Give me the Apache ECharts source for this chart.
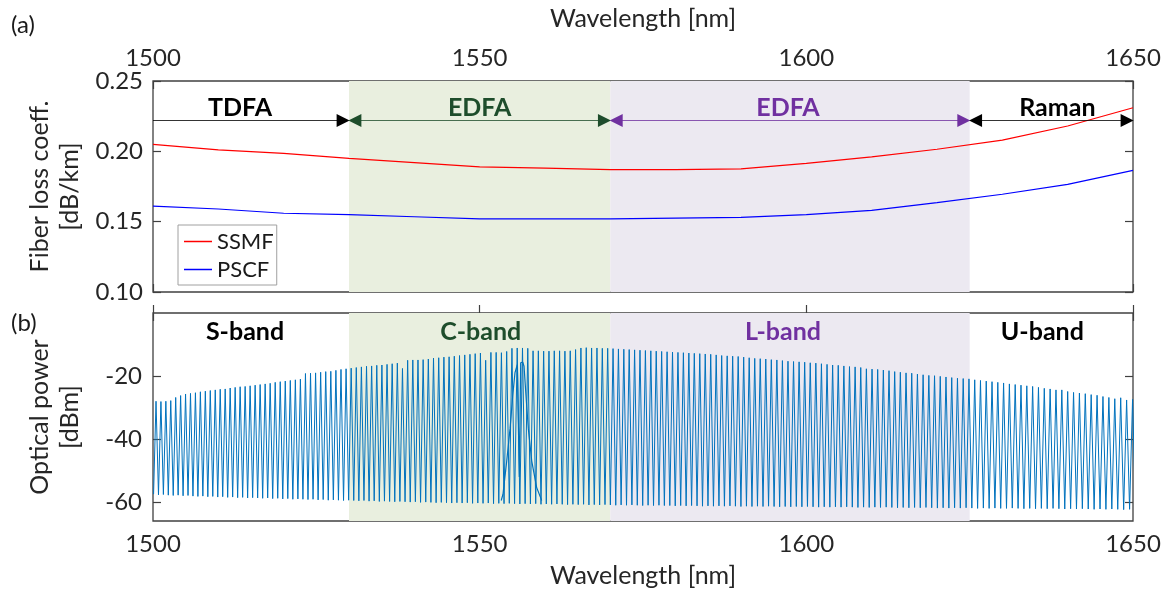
<!DOCTYPE html>
<html>
<head>
<meta charset="utf-8">
<script src="https://cdn.jsdelivr.net/npm/echarts@6/dist/echarts.min.js"></script>
<style>html,body{margin:0;padding:0;background:#fff}#c{width:1172px;height:592px}</style>
</head>
<body>
<div id="c"></div>
<script>
// ---------- data ----------
const lossWl = [1500,1510,1520,1530,1540,1550,1560,1570,1580,1590,1600,1610,1620,1630,1640,1650];
const ssmfLoss = [0.205,0.201,0.1985,0.195,0.192,0.189,0.188,0.187,0.187,0.1875,0.1915,0.196,0.2015,0.208,0.218,0.231];
const pscfLoss = [0.161,0.159,0.156,0.155,0.1535,0.152,0.152,0.152,0.1525,0.153,0.155,0.158,0.1635,0.1695,0.1765,0.1865];

const bandEdges = [1500,1530,1570,1625,1650];
const ampNames = ['TDFA','EDFA','EDFA','Raman'];
const bandNames = ['S-band','C-band','L-band','U-band'];
const bandFill = ['rgba(0,0,0,0)','#e9efdf','#ece9f1','rgba(0,0,0,0)'];
const bandTextColor = ['#000000','#1e4d2b','#7030a0','#000000'];
const arrowLevel = 0.222;

// 100 GHz channel grid (THz)
const channelTHz = [
199.8,199.7,199.6,199.5,199.4,199.3,199.2,199.1,199.0,198.9,
198.8,198.7,198.6,198.5,198.4,198.3,198.2,198.1,198.0,197.9,
197.8,197.7,197.6,197.5,197.4,197.3,197.2,197.1,197.0,196.9,
196.8,196.7,196.6,196.5,196.4,196.3,196.2,196.1,196.0,195.9,
195.8,195.7,195.6,195.5,195.4,195.3,195.2,195.1,195.0,194.9,
194.8,194.7,194.6,194.5,194.4,194.3,194.2,194.1,194.0,193.9,
193.8,193.7,193.6,193.5,193.4,193.3,193.2,193.1,193.0,192.9,
192.8,192.7,192.6,192.5,192.4,192.3,192.2,192.1,192.0,191.9,
191.8,191.7,191.6,191.5,191.4,191.3,191.2,191.1,191.0,190.9,
190.8,190.7,190.6,190.5,190.4,190.3,190.2,190.1,190.0,189.9,
189.8,189.7,189.6,189.5,189.4,189.3,189.2,189.1,189.0,188.9,
188.8,188.7,188.6,188.5,188.4,188.3,188.2,188.1,188.0,187.9,
187.8,187.7,187.6,187.5,187.4,187.3,187.2,187.1,187.0,186.9,
186.8,186.7,186.6,186.5,186.4,186.3,186.2,186.1,186.0,185.9,
185.8,185.7,185.6,185.5,185.4,185.3,185.2,185.1,185.0,184.9,
184.8,184.7,184.6,184.5,184.4,184.3,184.2,184.1,184.0,183.9,
183.8,183.7,183.6,183.5,183.4,183.3,183.2,183.1,183.0,182.9,
182.8,182.7,182.6,182.5,182.4,182.3,182.2,182.1,182.0,181.9,181.8,181.7
];
// channel peak power (dBm)
const peakDbm = [
-28.0,-28.1,-28.0,-27.8,-26.8,-26.2,-25.7,-25.5,-25.3,-25.0,
-24.8,-24.6,-24.4,-24.2,-24.1,-23.8,-23.6,-23.4,-23.3,-23.1,
-22.9,-22.7,-22.5,-22.3,-22.0,-21.8,-21.6,-21.4,-21.2,-21.0,
-19.2,-19.1,-19.0,-18.8,-18.6,-18.5,-18.2,-17.9,-17.7,-17.5,
-17.3,-17.1,-16.9,-16.8,-16.6,-16.5,-16.3,-16.1,-15.9,-17.6,
-15.0,-14.9,-14.9,-14.8,-14.6,-14.3,-14.2,-14.0,-13.9,-13.7,
-13.5,-13.3,-13.1,-12.9,-12.7,-15.0,-12.5,-12.5,-12.6,-12.2,
-11.2,-11.1,-11.1,-11.2,-12.0,-12.0,-12.1,-12.1,-12.0,-12.0,
-12.1,-12.0,-11.6,-11.1,-11.0,-11.1,-11.1,-11.2,-11.2,-11.3,
-11.4,-11.5,-11.6,-11.7,-11.8,-11.9,-12.0,-12.1,-12.2,-12.3,
-12.4,-12.5,-12.6,-12.7,-12.8,-12.9,-13.0,-13.1,-13.3,-13.5,
-13.6,-13.7,-13.8,-14.0,-14.2,-14.4,-14.5,-14.6,-14.8,-14.9,
-15.1,-15.3,-15.4,-15.5,-15.6,-15.8,-15.9,-16.1,-16.3,-16.5,
-16.6,-16.8,-17.0,-17.1,-17.3,-17.7,-17.8,-17.9,-18.1,-18.3,
-18.6,-18.8,-19.0,-19.1,-19.4,-19.6,-19.8,-19.9,-20.1,-20.3,
-20.5,-20.7,-20.8,-20.9,-21.2,-21.4,-21.6,-21.8,-22.0,-22.2,
-22.5,-22.7,-22.9,-23.1,-23.3,-23.6,-23.9,-24.1,-24.4,-24.4,
-24.9,-25.2,-25.4,-25.6,-25.9,-26.1,-26.5,-26.8,-27.2,-26.9,-27.6,-27.4
];
// trough (noise floor) before each channel (dBm)
const troughDbm = [
-57.5,-57.7,-57.6,-57.8,-57.9,-57.8,-58.0,-57.9,-58.1,-58.2,
-58.1,-58.3,-58.2,-58.4,-58.3,-58.5,-58.4,-58.6,-58.5,-58.7,
-58.6,-58.7,-58.8,-58.7,-58.9,-58.8,-59.0,-58.9,-59.1,-59.0,
-59.1,-59.2,-59.1,-59.3,-59.2,-59.4,-59.3,-59.4,-59.5,-59.4,
-59.5,-59.6,-59.5,-59.7,-59.6,-59.8,-59.7,-59.8,-59.9,-59.8,
-59.9,-60.0,-59.9,-60.1,-60.0,-60.1,-60.2,-60.1,-60.2,-60.3,
-60.2,-60.3,-60.2,-60.4,-60.3,-60.4,-60.3,-60.5,-60.4,-60.5,
-60.4,-60.5,-60.6,-60.5,-60.6,-60.5,-60.7,-60.6,-60.7,-60.6,
-60.7,-60.8,-60.7,-60.8,-60.7,-60.9,-60.8,-60.9,-60.8,-60.9,
-61.0,-60.9,-61.0,-60.9,-61.0,-61.1,-61.0,-61.1,-61.0,-61.1,
-61.1,-61.2,-61.1,-61.2,-61.1,-61.2,-61.3,-61.2,-61.3,-61.2,
-61.3,-61.2,-61.3,-61.4,-61.3,-61.4,-61.3,-61.4,-61.3,-61.4,
-61.5,-61.4,-61.5,-61.4,-61.5,-61.4,-61.5,-61.6,-61.5,-61.6,
-61.5,-61.6,-61.5,-61.6,-61.7,-61.6,-61.7,-61.6,-61.7,-61.6,
-61.7,-61.8,-61.7,-61.8,-61.7,-61.8,-61.7,-61.8,-61.9,-61.8,
-61.9,-61.8,-61.9,-61.8,-61.9,-62.0,-61.9,-62.0,-61.9,-62.0,
-62.0,-61.9,-62.0,-62.1,-62.0,-62.1,-62.0,-62.1,-62.0,-62.1,
-62.2,-62.1,-62.2,-62.1,-62.2,-62.3,-62.2,-62.3,-62.2,-62.3,-62.4,-62.3
];
// broad ASE-like feature near 1556 nm
const humpWl = [1553.3,1553.57,1554.14,1554.65,1555.06,1555.41,1555.76,1555.92,1556.07,1556.28,1556.59,1556.79,1557.09,1557.45,1557.97,1558.73,1559.5];
const humpDbm = [-59.5,-57.5,-47,-36.7,-26.2,-18.9,-16.4,-15.8,-52,-15.8,-15.6,-16.9,-26.2,-36.7,-47,-55.4,-59.5];

// ---------- build ----------
const C_NM_THZ = 299792.458;
const comb = [];
channelTHz.forEach((f, i) => {
  const prev = i > 0 ? channelTHz[i - 1] : f + (f - channelTHz[1]);
  comb.push([C_NM_THZ / ((prev + f) / 2), troughDbm[i]]);
  comb.push([C_NM_THZ / f, peakDbm[i]]);
});
{
  const n = channelTHz.length - 1;
  const f = channelTHz[n], nxt = f - (channelTHz[n - 1] - f);
  comb.push([C_NM_THZ / ((f + nxt) / 2), troughDbm[n]]);
}
const hump = humpWl.map((w, i) => [w, humpDbm[i]]);

const FONT = 'Lato';
const axisColor = '#404040';
const textColor = '#262626';
const headInset = 0.9;

// small horizontal label nudges (px) to match the original label placement
function bandAreas(names, nudges) {
  return names.map((nm, i) => [
    { xAxis: bandEdges[i], name: nm, itemStyle: { color: bandFill[i] },
      label: { color: bandTextColor[i], offset: [nudges[i], 0] } },
    { xAxis: bandEdges[i + 1] }
  ]);
}

const arrowLines = ampNames.map((nm, i) => {
  const a = bandEdges[i], b = bandEdges[i + 1];
  const col = bandTextColor[i];
  const startHead = i > 0;
  return [
    { coord: [startHead ? a + headInset : a, arrowLevel], symbol: startHead ? 'triangle' : 'none',
      itemStyle: { color: col }, lineStyle: { color: col, width: 0.8, type: 'solid' } },
    { coord: [b - headInset, arrowLevel], symbol: 'triangle',
      itemStyle: { color: col }, lineStyle: { color: col, width: 0.8, type: 'solid' } }
  ];
});

const tick = { show: true, inside: true, length: 8, lineStyle: { color: axisColor, width: 1.2 } };
const noLabel = { show: false };
const lbl = (m) => ({ show: true, fontSize: 24, color: textColor, fontFamily: FONT, margin: m });
const xLbl = (m) => Object.assign(lbl(m), { formatter: v => String(v) });
const nameStyle = { fontSize: 25, color: textColor, fontFamily: FONT, lineHeight: 30 };

const chart = echarts.init(document.getElementById('c'), null, { renderer: 'canvas' });
chart.setOption({
  animation: false,
  backgroundColor: '#ffffff',
  textStyle: { fontFamily: FONT },
  grid: [
    { left: 153, top: 81, width: 980, height: 211, show: true, borderColor: axisColor, borderWidth: 1.3, backgroundColor: 'rgba(0,0,0,0)' },
    { left: 153, top: 313, width: 980, height: 212, show: true, borderColor: axisColor, borderWidth: 1.3, backgroundColor: 'rgba(0,0,0,0)' }
  ],
  xAxis: [
    { gridIndex: 0, type: 'value', position: 'top', min: 1500, max: 1650, interval: 50,
      name: 'Wavelength [nm]', nameLocation: 'middle', nameGap: 47, nameTextStyle: nameStyle,
      axisLine: { show: false }, axisTick: tick, axisLabel: xLbl(11), splitLine: { show: false } },
    { gridIndex: 0, type: 'value', position: 'bottom', min: 1500, max: 1650, interval: 50,
      axisLine: { show: false }, axisTick: tick, axisLabel: noLabel, splitLine: { show: false } },
    { gridIndex: 1, type: 'value', position: 'bottom', min: 1500, max: 1650, interval: 50,
      name: 'Wavelength [nm]', nameLocation: 'middle', nameGap: 40, nameTextStyle: nameStyle,
      axisLine: { show: false }, axisTick: tick, axisLabel: xLbl(11), splitLine: { show: false } },
    { gridIndex: 1, type: 'value', position: 'top', min: 1500, max: 1650, interval: 50,
      axisLine: { show: false }, axisTick: tick, axisLabel: noLabel, splitLine: { show: false } }
  ],
  yAxis: [
    { gridIndex: 0, type: 'value', position: 'left', min: 0.1, max: 0.25, interval: 0.05,
      name: 'Fiber loss coeff.\n[dB/km]', nameLocation: 'middle', nameGap: 68, nameTextStyle: nameStyle,
      axisLine: { show: false }, axisTick: tick,
      axisLabel: Object.assign(lbl(10), { formatter: v => v.toFixed(2) }), splitLine: { show: false } },
    { gridIndex: 0, type: 'value', position: 'right', min: 0.1, max: 0.25, interval: 0.05,
      axisLine: { show: false }, axisTick: tick, axisLabel: noLabel, splitLine: { show: false } },
    { gridIndex: 1, type: 'value', position: 'left', min: -66, max: 0,
      name: 'Optical power\n[dBm]', nameLocation: 'middle', nameGap: 68, nameTextStyle: nameStyle,
      axisLine: { show: false },
      axisTick: Object.assign({}, tick, { customValues: [-60, -40, -20] }),
      axisLabel: Object.assign(lbl(11), { customValues: [-60, -40, -20] }), splitLine: { show: false } },
    { gridIndex: 1, type: 'value', position: 'right', min: -66, max: 0,
      axisLine: { show: false },
      axisTick: Object.assign({}, tick, { customValues: [-60, -40, -20] }),
      axisLabel: noLabel, splitLine: { show: false } }
  ],
  legend: {
    data: ['SSMF', 'PSCF'], orient: 'vertical', left: 178, top: 225,
    icon: 'rect', itemWidth: 28, itemHeight: 1.5, itemGap: 3, padding: [4, 3, 3, 6],
    backgroundColor: '#ffffff', borderColor: '#a0a0a0', borderWidth: 1,
    textStyle: { fontSize: 22, color: '#1a1a1a', fontFamily: FONT, lineHeight: 25 }
  },
  graphic: [
    { type: 'text', left: 11, top: 13, style: { text: '(a)', fontSize: 24, fill: '#1a1a1a', fontFamily: FONT } },
    { type: 'text', left: 11, top: 311, style: { text: '(b)', fontSize: 24, fill: '#1a1a1a', fontFamily: FONT } }
  ],
  series: [
    { name: 'SSMF', type: 'line', xAxisIndex: 0, yAxisIndex: 0, symbol: 'none',
      data: lossWl.map((w, i) => [w, ssmfLoss[i]]),
      lineStyle: { color: '#ff0000', width: 1.2 }, itemStyle: { color: '#ff0000' }, z: 3,
      markArea: { silent: true,
        label: { show: true, position: 'insideTop', distance: 14, fontSize: 25, fontWeight: 'bold', fontFamily: FONT },
        data: bandAreas(ampNames, [-11, 0, -2, 6]) } },
    { name: 'PSCF', type: 'line', xAxisIndex: 0, yAxisIndex: 0, symbol: 'none',
      data: lossWl.map((w, i) => [w, pscfLoss[i]]),
      lineStyle: { color: '#0000ff', width: 1.2 }, itemStyle: { color: '#0000ff' }, z: 3,
      markLine: { silent: true, symbolSize: 13, label: { show: false }, emphasis: { disabled: true },
        animation: false, data: arrowLines } },
    { name: 'spectrum', type: 'line', xAxisIndex: 2, yAxisIndex: 2, symbol: 'none',
      data: comb, sampling: null, lineStyle: { color: '#0072bd', width: 1 }, z: 3,
      markArea: { silent: true,
        label: { show: true, position: 'insideTop', distance: 6, fontSize: 25, fontWeight: 'bold', fontFamily: FONT },
        data: bandAreas(bandNames, [-6, 1, -7, -9]) } },
    { name: 'ase', type: 'line', xAxisIndex: 2, yAxisIndex: 2, symbol: 'none',
      data: hump, lineStyle: { color: '#0072bd', width: 1.2 }, z: 3 }
  ]
});
</script>
</body>
</html>
